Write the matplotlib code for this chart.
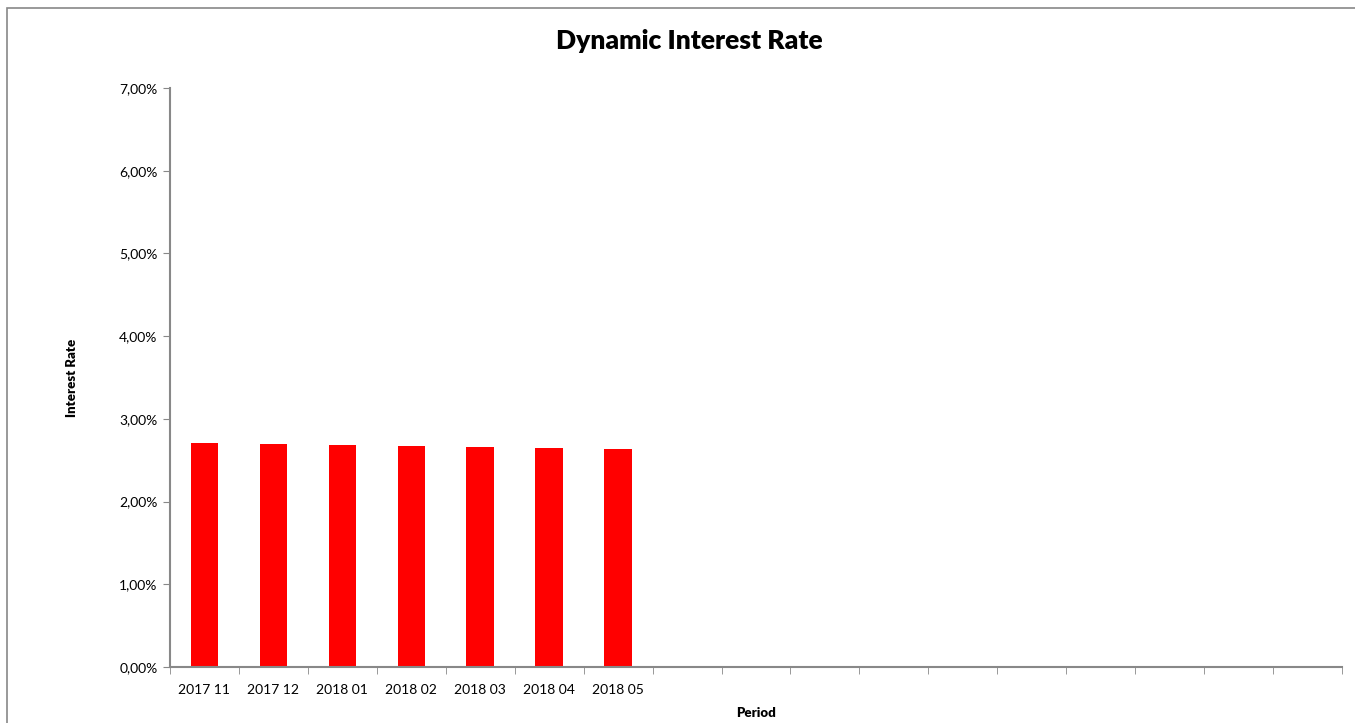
import numpy as np
import matplotlib.pyplot as plt
from matplotlib.patches import Rectangle

# data
periods = ["2017 11", "2017 12", "2018 01", "2018 02", "2018 03", "2018 04", "2018 05"]
rates = [2.71, 2.70, 2.685, 2.675, 2.665, 2.65, 2.63]
n_slots = 17  # axis keeps room for empty periods
y_ticks = [0, 1, 2, 3, 4, 5, 6, 7]

plt.rcParams['font.family'] = ['Lato', 'DejaVu Sans']

fig = plt.figure(figsize=(13.55, 7.23), dpi=100)
ax = fig.add_axes([170/1355, 1-667/723, (1342-170)/1355, (667-88)/723])

x = np.arange(len(periods))
ax.bar(x, rates, width=0.4, color="#ff0000", zorder=2)

ax.set_xlim(-0.5, n_slots-0.5)
ax.set_ylim(0, 7)
ax.set_yticks(y_ticks)
ax.set_yticklabels([f"{v:.2f}%".replace(".", ",") for v in y_ticks], fontsize=10)
ax.set_xticks(x)
ax.set_xticklabels(periods, fontsize=10)
ax.tick_params(axis="x", length=0, pad=12)
ax.set_xticks(np.arange(n_slots+1)-0.5, minor=True)
ax.tick_params(axis="x", which="minor", length=5, color="#888888")
ax.tick_params(axis="y", length=5, color="#888888", pad=4)

for s in ["top", "right"]:
    ax.spines[s].set_visible(False)
for s in ["left", "bottom"]:
    ax.spines[s].set_color("#888888")
    ax.spines[s].set_linewidth(1.5)

fig.text(689/1355, 1-41/723, "Dynamic Interest Rate", ha="center", va="center",
         fontsize=19, fontweight="heavy")
fig.text(72/1355, 1-378/723, "Interest Rate", ha="center", va="center",
         rotation=90, fontsize=9.5, fontweight="heavy")
fig.text(756/1355, 1-713/723, "Period", ha="center", va="center",
         fontsize=9.5, fontweight="heavy")

# outer chart frame
fig.patches.append(Rectangle((7/1355, -0.05), 1.1, 1-8/723+0.05, transform=fig.transFigure,
                             fill=False, edgecolor="#888888", linewidth=1.2))

plt.savefig("out.png", dpi=100)
plt.close()
